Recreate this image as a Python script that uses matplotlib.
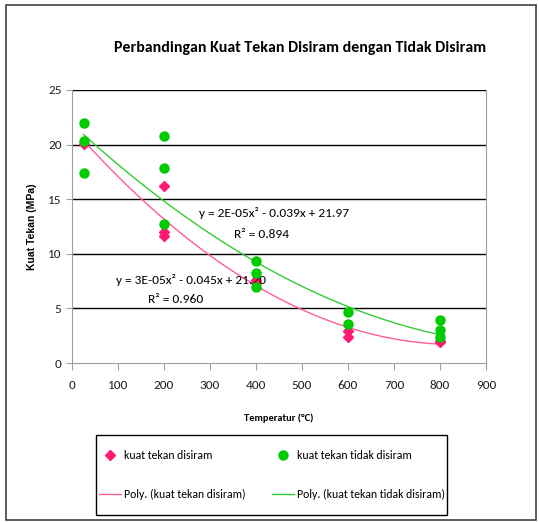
import numpy as np
import matplotlib
matplotlib.use("Agg")
from matplotlib import pyplot as plt
from matplotlib.patches import Rectangle

# data
suhu_disiram = [25, 200, 200, 200, 400, 400, 600, 600, 800, 800]
kuat_disiram = [20.1, 16.2, 12.0, 11.6, 7.6, 7.3, 2.9, 2.4, 2.0, 1.95]

suhu_tidak = [25, 25, 25, 200, 200, 200, 400, 400, 400, 600, 600, 800, 800, 800]
kuat_tidak = [21.95, 20.3, 17.4, 20.8, 17.9, 12.7, 9.3, 8.2, 7.0, 4.7, 3.55, 3.9, 3.0, 2.4]

x_ticks = [0, 100, 200, 300, 400, 500, 600, 700, 800, 900]
y_ticks = [0, 5, 10, 15, 20, 25]

pink = "#ff1a75"
pink_line = "#ff5c99"
green = "#00cc00"
green_line = "#33cc33"

plt.rcParams["font.family"] = ["Carlito", "DejaVu Sans"]

fig = plt.figure(figsize=(5.39, 5.22), dpi=100)
ax = fig.add_axes([72 / 539, 1 - 363 / 522, (486 - 72) / 539, (363 - 90) / 522])

# trendlines (2nd order polynomial)
xs = np.linspace(25, 800, 200)
c1 = np.polyfit(suhu_disiram, kuat_disiram, 2)
c2 = np.polyfit(suhu_tidak, kuat_tidak, 2)
l1, = ax.plot(xs, np.polyval(c1, xs), color=pink_line, lw=1, zorder=2)
l2, = ax.plot(xs, np.polyval(c2, xs), color=green_line, lw=1, zorder=2)

p1, = ax.plot(suhu_disiram, kuat_disiram, "D", color=pink, ms=5, mec=pink, ls="none", zorder=3)
p2, = ax.plot(suhu_tidak, kuat_tidak, "o", color=green, ms=6.5, mec=green, ls="none", zorder=4)

ax.set_xlim(0, 900)
ax.set_ylim(0, 25)
ax.set_xticks(x_ticks)
ax.set_yticks(y_ticks)
for y in y_ticks[1:]:
    ax.axhline(y, color="black", lw=1, zorder=1)

for s in ["left", "bottom", "right"]:
    ax.spines[s].set_color("#a0a0a0")
ax.spines["top"].set_visible(False)
ax.tick_params(direction="out", color="#a0a0a0", labelsize=9.5, labelcolor="#222222")
ax.tick_params(axis="x", length=5, pad=7)
ax.tick_params(axis="y", length=4, pad=3.5)

ax.set_xlabel("Temperatur (\u00b0C)", fontsize=7.5, fontweight="bold")
ax.set_ylabel("Kuat Tekan (MPa)", fontsize=7.5, fontweight="bold", family="Liberation Sans")
ax.xaxis.set_label_coords(0.5, -0.183)
ax.yaxis.set_label_coords(-0.085, 0.5)

fig.text(300 / 539, 1 - 48 / 522, "Perbandingan Kuat Tekan Disiram dengan Tidak Disiram",
         ha="center", va="center", fontsize=11.4, fontweight="bold")

ax.text(439, 13.7, "y = 2E-05x\u00b2 - 0.039x + 21.97", ha="center", va="center", fontsize=9.6)
ax.text(413, 11.8, "R\u00b2 = 0.894", ha="center", va="center", fontsize=9.6)
ax.text(259, 7.6, "y = 3E-05x\u00b2 - 0.045x + 21.20", ha="center", va="center", fontsize=9.6)
ax.text(226, 5.8, "R\u00b2 = 0.960", ha="center", va="center", fontsize=9.6)

fig.legend([p1, l1, p2, l2],
           ["kuat tekan disiram", "Poly. (kuat tekan disiram)",
            "kuat tekan tidak disiram", "Poly. (kuat tekan tidak disiram)"],
           ncol=2, loc="center",
           bbox_to_anchor=(272 / 539, 1 - 475 / 522),
           fontsize=8.5, frameon=False, handlelength=1.85, handletextpad=0.25,
           labelspacing=2.4, columnspacing=2.3)
fig.patches.append(Rectangle((96 / 539, 1 - 515 / 522), 351 / 539, 80 / 522,
                             transform=fig.transFigure, fill=False,
                             edgecolor="black", lw=1))

fig.patches.append(Rectangle((6 / 539, 2 / 522), 530 / 539, 515 / 522,
                             transform=fig.transFigure, fill=False,
                             edgecolor="#404040", lw=1.2))

fig.savefig("out.png", dpi=100)
